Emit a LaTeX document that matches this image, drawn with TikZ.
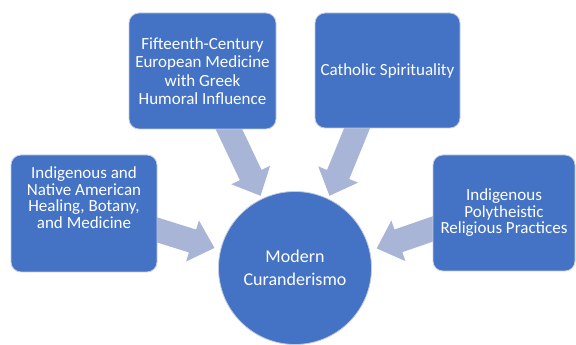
\documentclass[tikz,border=0pt]{standalone}
\usepackage{fontspec}
\setmainfont{Carlito}
\usetikzlibrary{calc,backgrounds}

\definecolor{boxblue}{HTML}{4472C4}
\definecolor{boxedge}{HTML}{C3CCE0}
\definecolor{arrowfill}{HTML}{A9B5D7}

% broad block arrow from a tail coordinate (#1) to a tip coordinate (#2)
\newcommand\blockarrow[2]{%
  \coordinate (#1-t0) at ($(#1)!-10pt!(#2)$);
  \coordinate (#1-hb) at ($(#2)!23pt!(#1)$);
  \fill[arrowfill]
    ($(#1-t0)!12pt!90:(#2)$) -- ($(#1-hb)!12pt!90:(#2)$) --
    ($(#1-hb)!21.5pt!90:(#2)$) -- (#2) --
    ($(#1-hb)!21.5pt!-90:(#2)$) -- ($(#1-hb)!12pt!-90:(#2)$) --
    ($(#1-t0)!12pt!-90:(#2)$) -- cycle;
}

\tikzset{
  source/.style={draw=boxedge, line width=0.8pt, fill=boxblue,
    rounded corners=10pt, text=white, align=center,
    font=\fontsize{17}{16.5}\selectfont},
  hub/.style={circle, draw=boxedge, line width=0.8pt, fill=boxblue,
    text=white, align=center, minimum size=153pt, inner sep=0pt,
    font=\fontsize{18}{22.5}\selectfont},
  plain/.style={text=white, align=center, inner sep=0pt,
    font=\fontsize{17}{16.5}\selectfont}
}

\begin{document}
\begin{tikzpicture}[x=1pt,y=1pt]
\useasboundingbox (0,0) rectangle (576,345);

% the four sources
\node[source, minimum width=147pt, minimum height=116pt,
      font=\fontsize{17}{18.5}\selectfont] (b1) at (202.5,274)
  {Fifteenth-Century\\European Medicine\\with Greek\\Humoral Influence};
\node[source, minimum width=145pt, minimum height=115pt] (b2) at (387.5,274.5)
  {Catholic Spirituality};
\node[source, minimum width=146pt, minimum height=117pt] (b3) at (84,131.5) {};
\node[plain] (b3text) at (84,147.5)
  {Indigenous and\\Native American\\Healing, Botany,\\and Medicine};
\node[source, minimum width=142pt, minimum height=116pt] (b4) at (504,132)
  {Indigenous\\Polytheistic\\Religious Practices};

% the centre
\node[hub] (c) at (295,77) {Modern\\Curanderismo};

% arrows converging on the centre
\coordinate (s1) at ($(b1.south)+(26.5,0)$);
\coordinate (s2) at ($(b2.south)+(-30.5,0)$);
\coordinate (s3) at ($(b3.east)+(0,-16.5)$);
\coordinate (s4) at ($(b4.west)+(0,-16)$);
\coordinate (e1) at ($(c.center)+(115.5:80pt)$);
\coordinate (e2) at ($(c.center)+(64.5:80pt)$);
\coordinate (e3) at ($(c.center)+(166:83pt)$);
\coordinate (e4) at ($(c.center)+(13.5:84pt)$);
\begin{scope}[on background layer]
  \blockarrow{s1}{e1}
  \blockarrow{s2}{e2}
  \blockarrow{s3}{e3}
  \blockarrow{s4}{e4}
\end{scope}
\end{tikzpicture}
\end{document}
